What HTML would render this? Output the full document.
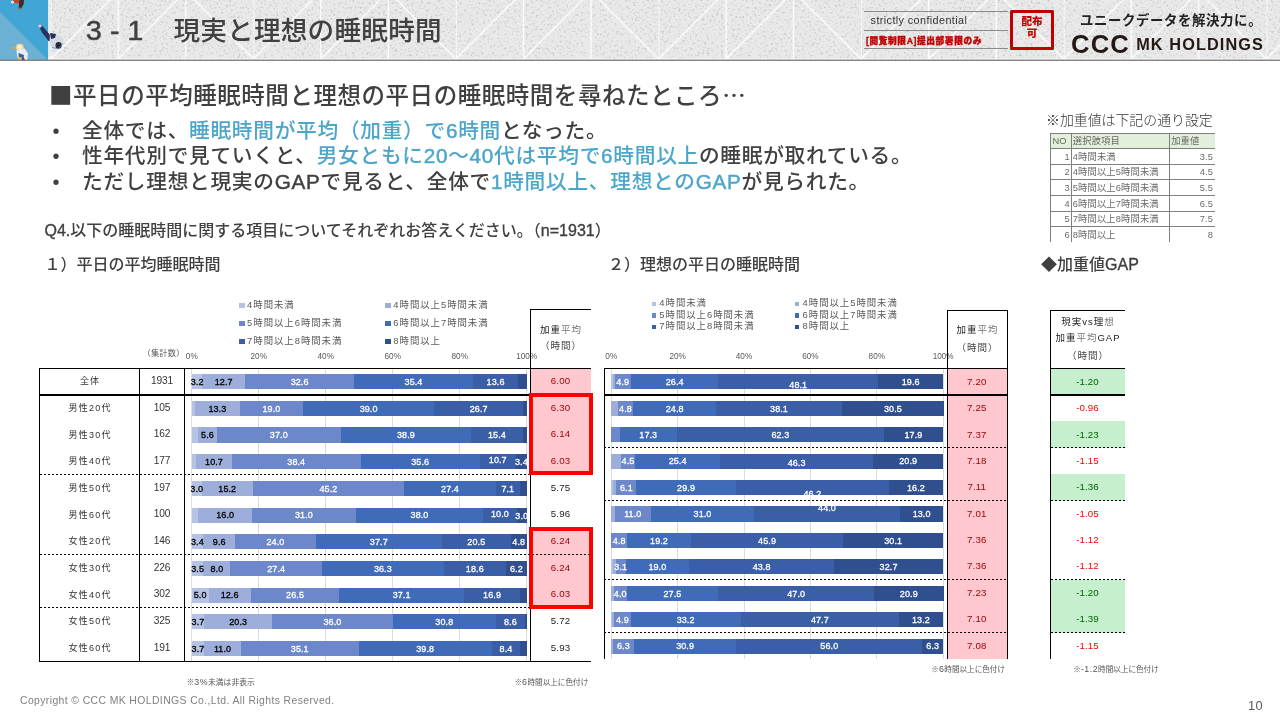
<!DOCTYPE html>
<html lang="ja"><head><meta charset="utf-8"><title>3-1 現実と理想の睡眠時間</title>
<style>
*{margin:0;padding:0;box-sizing:border-box}
html,body{width:1280px;height:720px;overflow:hidden;background:#fff}
body{position:relative;font-family:"Liberation Sans","Noto Sans CJK JP",sans-serif;color:#404040}
.j{font-family:"Noto Sans CJK JP",sans-serif}
.a{position:absolute;white-space:nowrap}
.m{-webkit-text-stroke:.45px currentColor}
.hd{position:absolute;left:0;top:0;width:1280px;height:61px;overflow:hidden}
.t1{font-size:26.6px;font-weight:500;color:#404040}
.h2{font-size:23.5px;font-weight:500;color:#404040}
.bl{font-size:20.7px;letter-spacing:.72px;font-weight:500;color:#404040;line-height:25.6px}
.bl b{font-weight:500;color:#4BA6C9}
.q{font-size:16px;font-weight:500;color:#404040}
.bar{position:absolute;height:15.2px}
.lbs{position:absolute;height:26px;overflow:hidden}
.bar i{position:absolute;top:0;height:100%;display:block}
.lb{position:absolute;font-size:9px;line-height:10px;width:30px;margin-left:-15px;text-align:center;color:#fff;font-weight:400;white-space:nowrap;-webkit-text-stroke:.3px #fff;letter-spacing:.1px}
.lb.k{color:#000;-webkit-text-stroke:.3px #000}
.ln{position:absolute;background:#000}
.gl{position:absolute;background:#dcdcdc;width:1px}
.dot{position:absolute;height:1.1px;background:repeating-linear-gradient(90deg,#000 0,#000 2.2px,transparent 2.2px,transparent 4px)}
.cell{position:absolute;text-align:center;font-size:9px;line-height:10px;color:#333;white-space:nowrap;letter-spacing:1.2px;text-indent:1.2px}
.lg{position:absolute;font-size:9.4px;line-height:12px;letter-spacing:.98px;color:#595959;white-space:nowrap}
.mk{position:absolute;width:5.5px;height:4.8px;margin-left:-.5px;margin-top:-.2px}
.ax{position:absolute;font-size:8.2px;line-height:10px;color:#595959;width:30px;margin-left:-15px;text-align:center;white-space:nowrap}
.nt u{text-decoration:none;font-size:8.8px;letter-spacing:.5px}
.nt{position:absolute;font-size:7.2px;line-height:10px;color:#555;white-space:nowrap}
.v{position:absolute;font-size:9.7px;letter-spacing:.1px;line-height:12px;width:60px;margin-left:-30px;text-align:center;white-space:nowrap}
.wt{position:absolute;font-size:9.3px;letter-spacing:.12px;line-height:10px;color:#6a6a6a;white-space:nowrap}
</style></head><body>

<div class="hd">
<svg class="a" style="left:0;top:0" width="1280" height="61" viewBox="0 0 1280 61">
<defs>
<filter id="nz" x="0" y="0" width="100%" height="100%"><feTurbulence type="fractalNoise" baseFrequency="0.42" numOctaves="3" seed="7"/><feColorMatrix type="matrix" values="0 0 0 0 0.45  0 0 0 0 0.45  0 0 0 0 0.45  4.2 0 0 0 -2.3"/></filter>
<pattern id="tri" x="50.7" y="-8.5" width="202.6" height="67.53" patternUnits="userSpaceOnUse">
<path d="M0 0V67.53M67.53 0V67.53M135.07 0V67.53M0 67.53L67.53 0M67.53 67.53L135.07 0M135.07 0L202.6 67.53" stroke="#fff" stroke-width="1.25" fill="none"/>
</pattern>
</defs>
<rect width="1280" height="61" fill="#e9e9e9"/>
<rect width="1280" height="61" filter="url(#nz)" opacity=".55"/>
<rect x="48" width="1232" height="60" fill="url(#tri)"/>
<rect x="0" y="0" width="48.3" height="60" fill="#41a6d6"/>
<path d="M0 12L47.6 59.6H0Z" fill="#6db1d4"/>
<rect x="48.3" y="0" width="1.2" height="59" fill="#f4f4f4"/>
<g>
<ellipse cx="17.5" cy="1.2" rx="4.5" ry="2.2" fill="#c2402f"/>
<ellipse cx="12.5" cy="2.2" rx="1.6" ry="1.4" fill="#f3dcc0"/>
<path d="M19.5 0L24 0L23.5 4.5L20.5 9.5L18.5 8.5Z" fill="#3d2b27"/>
<ellipse cx="19.6" cy="8.6" rx="1.3" ry="1" fill="#b86a3a"/>
<path d="M38.6 25.4L41.6 25L50.5 35.5L52 41.5L48.5 41L42 32.5Z" fill="#2b325c"/>
<ellipse cx="40" cy="26" rx="1.8" ry="1.5" fill="#d9d3e0"/>
<path d="M50 33L57.5 34.5L63.5 39L62.5 43L58 48.5L51.5 47L49.5 42Z" fill="#d5dbe4"/>
<path d="M50 33L56 34L55 38L51 39Z" fill="#27305a"/>
<ellipse cx="58.6" cy="45.4" rx="3.1" ry="3.3" fill="#2a2b38"/>
<path d="M52 47.5L58.5 48.8L63 43.5" stroke="#3b86c4" stroke-width=".8" fill="none"/>
<ellipse cx="19.8" cy="47.2" rx="3.9" ry="3.4" fill="#f2d998"/>
<ellipse cx="19.8" cy="46.8" rx="2.2" ry="1.9" fill="#fbf3dc"/>
<path d="M16.5 50L24.5 48.5L27.8 53L27.5 60L18.5 60L17 55Z" fill="#e9edf3"/>
<path d="M18.5 53L24 55L23.5 60L19 60Z" fill="#3c5c9a"/>
<ellipse cx="13.8" cy="47.8" rx="2" ry="1.5" fill="#e3a04f" transform="rotate(-35 13.8 47.8)"/>
<ellipse cx="20" cy="58.6" rx="2.2" ry="1.6" fill="#e8b36a"/>
<ellipse cx="23.4" cy="59.4" rx="1.3" ry="1.2" fill="#222"/>
</g>
<rect x="48" y="58.4" width="1232" height="1.2" fill="#f7f7f7"/><rect x="0" y="59.6" width="1280" height="1.4" fill="#858585"/>
</svg>
<div class="a t1" style="left:86px;top:10.4px;line-height:40px;font-size:28.4px;letter-spacing:.1px;-webkit-text-stroke:.5px #404040">3 - 1</div><div class="a t1" style="left:173.4px;top:11px;line-height:40px;letter-spacing:.25px">現実と理想の睡眠時間</div>
<div class="ln" style="left:864px;top:10.7px;width:144px;height:1px;background:#8c8c8c"></div>
<div class="ln" style="left:864px;top:29.8px;width:144px;height:1px;background:#8c8c8c"></div>
<div class="ln" style="left:864px;top:47.6px;width:144px;height:1px;background:#8c8c8c"></div>
<div class="a" style="left:870.6px;top:13px;font-size:10.8px;line-height:14px;color:#333;letter-spacing:.4px">strictly confidential</div>
<div class="a" style="left:866px;top:35px;font-size:8.7px;line-height:12px;color:#c00000;font-weight:900;letter-spacing:.6px;-webkit-text-stroke:.3px #c00000">[閲覧制限A]提出部署限のみ</div>
<div class="a" style="left:1010px;top:10px;width:44px;height:40px;border:3.1px solid #c00000;border-radius:1.5px;text-align:center;font-size:10.6px;line-height:11.4px;color:#c00000;font-weight:900;padding-top:3.2px">配布<br>可</div>
<div class="a" style="left:1080px;top:12px;font-size:13.4px;line-height:18px;color:#222;font-weight:700;letter-spacing:.62px">ユニークデータを解決力に。</div>
<div class="a" style="left:1071px;top:29.7px;font-size:25.6px;line-height:28px;color:#231815;font-weight:700;letter-spacing:1.2px">CCC</div>
<div class="a" style="left:1136.2px;top:33px;font-size:16.3px;line-height:22px;color:#231815;font-weight:700;letter-spacing:1.1px">MK HOLDINGS</div>
</div>
<div class="a h2" style="left:49px;top:75.8px;letter-spacing:.54px;line-height:36px"><span class="j">■</span>平日の平均睡眠時間と理想の平日の睡眠時間を尋ねたところ<span class="j">…</span></div>
<div class="a bl" style="left:52.4px;top:118.8px;font-size:20px;letter-spacing:0">•</div>
<div class="a bl" style="left:52.4px;top:144.3px;font-size:20px;letter-spacing:0">•</div>
<div class="a bl" style="left:52.4px;top:169.9px;font-size:20px;letter-spacing:0">•</div>
<div class="a bl" style="left:82px;top:117.5px">全体では、<b>睡眠時間が平均（加重）で<span class="m">6</span>時間</b>となった。</div>
<div class="a bl" style="left:82px;top:143px">性年代別で見ていくと、<b>男女ともに<span class="m">20</span>〜<span class="m">40</span>代は平均で<span class="m">6</span>時間以上</b>の睡眠が取れている。</div>
<div class="a bl" style="left:82px;top:168.6px">ただし理想と現実の<span class="m">GAP</span>で見ると、全体で<b><span class="m">1</span>時間以上、理想との<span class="m">GAP</span></b>が見られた。</div>
<div class="a q" style="left:44.5px;top:219px;line-height:24px"><span class="m" style="-webkit-text-stroke-width:.35px">Q4.</span>以下の睡眠時間に関する項目についてそれぞれお答えください。（<span class="m" style="-webkit-text-stroke-width:.35px">n=1931</span>）</div>
<div class="a q" style="left:44.5px;top:252.8px;line-height:24px">１）平日の平均睡眠時間</div>
<div class="a q" style="left:608px;top:252.8px;line-height:24px">２）理想の平日の睡眠時間</div>
<div class="a q" style="left:1041px;top:250.8px;line-height:24px"><span class="j">◆</span>加重値<span class="m" style="-webkit-text-stroke-width:.35px">GAP</span></div>
<div class="a" style="left:1046px;top:109px;font-size:13.9px;line-height:20px;color:#333;font-weight:300"><span class="j">※</span>加重値は下記の通り設定</div>
<div class="a" style="left:1050.4px;top:133.3px;width:164.5999999999999px;height:15.299999999999983px;background:#e2efda"></div>
<div class="ln" style="left:1050.4px;top:132.8px;width:164.5999999999999px;height:1px;background:#7f7f7f"></div>
<div class="ln" style="left:1050.4px;top:148.1px;width:164.5999999999999px;height:1px;background:#7f7f7f"></div>
<div class="ln" style="left:1050.4px;top:163.7px;width:164.5999999999999px;height:1px;background:#7f7f7f"></div>
<div class="ln" style="left:1050.4px;top:179.3px;width:164.5999999999999px;height:1px;background:#7f7f7f"></div>
<div class="ln" style="left:1050.4px;top:194.9px;width:164.5999999999999px;height:1px;background:#7f7f7f"></div>
<div class="ln" style="left:1050.4px;top:210.5px;width:164.5999999999999px;height:1px;background:#7f7f7f"></div>
<div class="ln" style="left:1050.4px;top:226.2px;width:164.5999999999999px;height:1px;background:#7f7f7f"></div>
<div class="ln" style="left:1049.9px;top:133.3px;width:1px;height:108.69999999999999px;background:#7f7f7f"></div>
<div class="ln" style="left:1070.8px;top:133.3px;width:1px;height:108.69999999999999px;background:#7f7f7f"></div>
<div class="ln" style="left:1168.7px;top:133.3px;width:1px;height:108.69999999999999px;background:#7f7f7f"></div>
<div class="wt" style="left:1052.4px;top:136.25px;color:#666">NO</div>
<div class="wt" style="left:1171.2px;top:136.25px">加重値</div>
<div class="wt" style="left:1072.8px;top:136.25px">選択肢項目</div>
<div class="wt" style="left:1050.4px;width:19.399999999999864px;text-align:right;top:151.7px">1</div>
<div class="wt" style="left:1169.2px;width:43.799999999999955px;text-align:right;top:151.7px">3.5</div>
<div class="wt" style="left:1072.8px;top:151.7px">4時間未満</div>
<div class="wt" style="left:1050.4px;width:19.399999999999864px;text-align:right;top:167.3px">2</div>
<div class="wt" style="left:1169.2px;width:43.799999999999955px;text-align:right;top:167.3px">4.5</div>
<div class="wt" style="left:1072.8px;top:167.3px">4時間以上5時間未満</div>
<div class="wt" style="left:1050.4px;width:19.399999999999864px;text-align:right;top:182.90000000000003px">3</div>
<div class="wt" style="left:1169.2px;width:43.799999999999955px;text-align:right;top:182.90000000000003px">5.5</div>
<div class="wt" style="left:1072.8px;top:182.90000000000003px">5時間以上6時間未満</div>
<div class="wt" style="left:1050.4px;width:19.399999999999864px;text-align:right;top:198.5px">4</div>
<div class="wt" style="left:1169.2px;width:43.799999999999955px;text-align:right;top:198.5px">6.5</div>
<div class="wt" style="left:1072.8px;top:198.5px">6時間以上7時間未満</div>
<div class="wt" style="left:1050.4px;width:19.399999999999864px;text-align:right;top:214.15px">5</div>
<div class="wt" style="left:1169.2px;width:43.799999999999955px;text-align:right;top:214.15px">7.5</div>
<div class="wt" style="left:1072.8px;top:214.15px">7時間以上8時間未満</div>
<div class="wt" style="left:1050.4px;width:19.399999999999864px;text-align:right;top:229.65px">6</div>
<div class="wt" style="left:1169.2px;width:43.799999999999955px;text-align:right;top:229.65px">8</div>
<div class="wt" style="left:1072.8px;top:229.65px">8時間以上</div>
<div class="gl" style="left:191.25px;top:368.7px;height:292.59999999999997px"></div>
<div class="ax" style="left:191.75px;top:351.5px">0%</div>
<div class="gl" style="left:258.25px;top:368.7px;height:292.59999999999997px"></div>
<div class="ax" style="left:258.75px;top:351.5px">20%</div>
<div class="gl" style="left:325.25px;top:368.7px;height:292.59999999999997px"></div>
<div class="ax" style="left:325.75px;top:351.5px">40%</div>
<div class="gl" style="left:392.25px;top:368.7px;height:292.59999999999997px"></div>
<div class="ax" style="left:392.75px;top:351.5px">60%</div>
<div class="gl" style="left:459.25px;top:368.7px;height:292.59999999999997px"></div>
<div class="ax" style="left:459.75px;top:351.5px">80%</div>
<div class="gl" style="left:526.25px;top:368.7px;height:292.59999999999997px"></div>
<div class="ax" style="left:526.75px;top:351.5px">100%</div>
<div class="bar" style="left:191.75px;top:374.10px;width:335.40px">
<i style="left:0.00px;width:11.02px;background:#b6c3e5"></i>
<i style="left:10.72px;width:42.84px;background:#9eaedb"></i>
<i style="left:53.26px;width:109.51px;background:#6c88ca"></i>
<i style="left:162.47px;width:118.89px;background:#3f6bb9"></i>
<i style="left:281.07px;width:45.86px;background:#3a5fa6"></i>
<i style="left:326.62px;width:8.68px;background:#2f4f8e"></i>
</div>
<div class="lbs" style="left:191.15px;top:368.70px;width:336.50px">
<span class="lb k" style="left:5.96px;top:8.30px">3.2</span>
<span class="lb k" style="left:32.59px;top:8.30px">12.7</span>
<span class="lb" style="left:108.47px;top:8.30px">32.6</span>
<span class="lb" style="left:222.37px;top:8.30px">35.4</span>
<span class="lb" style="left:304.45px;top:8.30px">13.6</span>
</div>
<div class="bar" style="left:191.75px;top:400.78px;width:335.40px">
<i style="left:0.00px;width:3.65px;background:#b6c3e5"></i>
<i style="left:3.35px;width:44.85px;background:#9eaedb"></i>
<i style="left:47.91px;width:63.95px;background:#6c88ca"></i>
<i style="left:111.55px;width:130.95px;background:#3f6bb9"></i>
<i style="left:242.20px;width:89.75px;background:#3a5fa6"></i>
<i style="left:331.65px;width:3.65px;background:#2f4f8e"></i>
</div>
<div class="lbs" style="left:191.15px;top:395.38px;width:336.50px">
<span class="lb k" style="left:26.23px;top:8.30px">13.3</span>
<span class="lb" style="left:80.33px;top:8.30px">19.0</span>
<span class="lb" style="left:177.48px;top:8.30px">39.0</span>
<span class="lb" style="left:287.53px;top:8.30px">26.7</span>
</div>
<div class="bar" style="left:191.75px;top:427.46px;width:335.40px">
<i style="left:0.00px;width:6.67px;background:#b6c3e5"></i>
<i style="left:6.37px;width:19.06px;background:#9eaedb"></i>
<i style="left:25.12px;width:124.25px;background:#6c88ca"></i>
<i style="left:149.07px;width:130.62px;background:#3f6bb9"></i>
<i style="left:279.39px;width:51.89px;background:#3a5fa6"></i>
<i style="left:330.98px;width:4.32px;background:#2f4f8e"></i>
</div>
<div class="lbs" style="left:191.15px;top:422.06px;width:336.50px">
<span class="lb k" style="left:16.34px;top:8.30px">5.6</span>
<span class="lb" style="left:87.70px;top:8.30px">37.0</span>
<span class="lb" style="left:214.83px;top:8.30px">38.9</span>
<span class="lb" style="left:305.79px;top:8.30px">15.4</span>
</div>
<div class="bar" style="left:191.75px;top:454.14px;width:335.40px">
<i style="left:0.00px;width:4.66px;background:#b6c3e5"></i>
<i style="left:4.36px;width:36.14px;background:#9eaedb"></i>
<i style="left:40.20px;width:128.94px;background:#6c88ca"></i>
<i style="left:168.84px;width:119.56px;background:#3f6bb9"></i>
<i style="left:288.10px;width:36.14px;background:#3a5fa6"></i>
<i style="left:323.95px;width:11.69px;background:#2f4f8e"></i>
</div>
<div class="lbs" style="left:191.15px;top:448.74px;width:336.50px">
<span class="lb k" style="left:22.88px;top:8.30px">10.7</span>
<span class="lb" style="left:105.12px;top:8.30px">38.4</span>
<span class="lb" style="left:229.07px;top:8.30px">35.6</span>
<span class="lb" style="left:306.62px;top:6.70px">10.7</span>
<span class="lb" style="left:330.24px;top:8.70px">3.4</span>
</div>
<div class="bar" style="left:191.75px;top:480.82px;width:335.40px">
<i style="left:0.00px;width:10.35px;background:#b6c3e5"></i>
<i style="left:10.05px;width:51.22px;background:#9eaedb"></i>
<i style="left:60.97px;width:151.72px;background:#6c88ca"></i>
<i style="left:212.39px;width:92.09px;background:#3f6bb9"></i>
<i style="left:304.18px;width:24.08px;background:#3a5fa6"></i>
<i style="left:327.97px;width:7.00px;background:#2f4f8e"></i>
</div>
<div class="lbs" style="left:191.15px;top:475.42px;width:336.50px">
<span class="lb k" style="left:5.62px;top:8.30px">3.0</span>
<span class="lb k" style="left:36.11px;top:8.30px">15.2</span>
<span class="lb" style="left:137.28px;top:8.30px">45.2</span>
<span class="lb" style="left:258.89px;top:8.30px">27.4</span>
<span class="lb" style="left:316.67px;top:8.90px">7.1</span>
</div>
<div class="bar" style="left:191.75px;top:507.50px;width:335.40px">
<i style="left:0.00px;width:7.00px;background:#b6c3e5"></i>
<i style="left:6.70px;width:53.90px;background:#9eaedb"></i>
<i style="left:60.30px;width:104.15px;background:#6c88ca"></i>
<i style="left:164.15px;width:127.60px;background:#3f6bb9"></i>
<i style="left:291.45px;width:33.80px;background:#3a5fa6"></i>
<i style="left:324.95px;width:10.35px;background:#2f4f8e"></i>
</div>
<div class="lbs" style="left:191.15px;top:502.10px;width:336.50px">
<span class="lb k" style="left:34.10px;top:8.30px">16.0</span>
<span class="lb" style="left:112.83px;top:8.30px">31.0</span>
<span class="lb" style="left:228.40px;top:8.30px">38.0</span>
<span class="lb" style="left:308.80px;top:6.90px">10.0</span>
<span class="lb" style="left:330.58px;top:8.70px">3.0</span>
</div>
<div class="bar" style="left:191.75px;top:534.18px;width:335.40px">
<i style="left:0.00px;width:11.69px;background:#b6c3e5"></i>
<i style="left:11.39px;width:32.46px;background:#9eaedb"></i>
<i style="left:43.55px;width:80.70px;background:#6c88ca"></i>
<i style="left:123.95px;width:126.59px;background:#3f6bb9"></i>
<i style="left:250.25px;width:68.97px;background:#3a5fa6"></i>
<i style="left:318.92px;width:16.38px;background:#2f4f8e"></i>
</div>
<div class="lbs" style="left:191.15px;top:528.78px;width:336.50px">
<span class="lb k" style="left:6.29px;top:8.30px">3.4</span>
<span class="lb k" style="left:28.07px;top:8.30px">9.6</span>
<span class="lb" style="left:84.35px;top:8.30px">24.0</span>
<span class="lb" style="left:187.70px;top:8.30px">37.7</span>
<span class="lb" style="left:285.18px;top:8.30px">20.5</span>
<span class="lb" style="left:327.56px;top:8.30px">4.8</span>
</div>
<div class="bar" style="left:191.75px;top:560.86px;width:335.40px">
<i style="left:0.00px;width:12.03px;background:#b6c3e5"></i>
<i style="left:11.73px;width:27.10px;background:#9eaedb"></i>
<i style="left:38.52px;width:92.09px;background:#6c88ca"></i>
<i style="left:130.31px;width:121.90px;background:#3f6bb9"></i>
<i style="left:251.92px;width:62.61px;background:#3a5fa6"></i>
<i style="left:314.23px;width:21.07px;background:#2f4f8e"></i>
</div>
<div class="lbs" style="left:191.15px;top:555.46px;width:336.50px">
<span class="lb k" style="left:6.46px;top:8.30px">3.5</span>
<span class="lb k" style="left:25.73px;top:8.30px">8.0</span>
<span class="lb" style="left:85.02px;top:8.30px">27.4</span>
<span class="lb" style="left:191.72px;top:8.30px">36.3</span>
<span class="lb" style="left:283.67px;top:8.30px">18.6</span>
<span class="lb" style="left:325.21px;top:8.30px">6.2</span>
</div>
<div class="bar" style="left:191.75px;top:587.54px;width:335.40px">
<i style="left:0.00px;width:17.05px;background:#b6c3e5"></i>
<i style="left:16.75px;width:42.51px;background:#9eaedb"></i>
<i style="left:58.96px;width:89.08px;background:#6c88ca"></i>
<i style="left:147.74px;width:124.58px;background:#3f6bb9"></i>
<i style="left:272.02px;width:56.91px;background:#3a5fa6"></i>
<i style="left:328.63px;width:7.00px;background:#2f4f8e"></i>
</div>
<div class="lbs" style="left:191.15px;top:582.14px;width:336.50px">
<span class="lb k" style="left:8.97px;top:8.30px">5.0</span>
<span class="lb k" style="left:38.46px;top:8.30px">12.6</span>
<span class="lb" style="left:103.95px;top:8.30px">26.5</span>
<span class="lb" style="left:210.48px;top:8.30px">37.1</span>
<span class="lb" style="left:300.93px;top:8.30px">16.9</span>
</div>
<div class="bar" style="left:191.75px;top:614.22px;width:335.40px">
<i style="left:0.00px;width:12.70px;background:#b6c3e5"></i>
<i style="left:12.40px;width:68.31px;background:#9eaedb"></i>
<i style="left:80.40px;width:120.90px;background:#6c88ca"></i>
<i style="left:201.00px;width:103.48px;background:#3f6bb9"></i>
<i style="left:304.18px;width:29.11px;background:#3a5fa6"></i>
<i style="left:332.99px;width:2.31px;background:#2f4f8e"></i>
</div>
<div class="lbs" style="left:191.15px;top:608.82px;width:336.50px">
<span class="lb k" style="left:6.80px;top:8.30px">3.7</span>
<span class="lb k" style="left:47.00px;top:8.30px">20.3</span>
<span class="lb" style="left:141.30px;top:8.30px">36.0</span>
<span class="lb" style="left:253.19px;top:8.30px">30.8</span>
<span class="lb" style="left:319.19px;top:8.30px">8.6</span>
</div>
<div class="bar" style="left:191.75px;top:640.90px;width:335.40px">
<i style="left:0.00px;width:12.70px;background:#b6c3e5"></i>
<i style="left:12.40px;width:37.15px;background:#9eaedb"></i>
<i style="left:49.24px;width:117.89px;background:#6c88ca"></i>
<i style="left:166.83px;width:133.63px;background:#3f6bb9"></i>
<i style="left:300.16px;width:28.44px;background:#3a5fa6"></i>
<i style="left:328.30px;width:7.33px;background:#2f4f8e"></i>
</div>
<div class="lbs" style="left:191.15px;top:635.50px;width:336.50px">
<span class="lb k" style="left:6.80px;top:8.30px">3.7</span>
<span class="lb k" style="left:31.42px;top:8.30px">11.0</span>
<span class="lb" style="left:108.64px;top:8.30px">35.1</span>
<span class="lb" style="left:234.09px;top:8.30px">39.8</span>
<span class="lb" style="left:314.83px;top:8.30px">8.4</span>
</div>
<div class="ln" style="left:39px;top:368.2px;width:552px;height:1px"></div>
<div class="ln" style="left:39px;top:394px;width:552px;height:2px"></div>
<div class="ln" style="left:39px;top:660.8px;width:552px;height:1px"></div>
<div class="ln" style="left:39.0px;top:368.7px;width:1px;height:292.59999999999997px"></div>
<div class="ln" style="left:139.0px;top:368.7px;width:1px;height:292.59999999999997px"></div>
<div class="ln" style="left:184.0px;top:368.7px;width:1px;height:292.59999999999997px"></div>
<div class="ln" style="left:529.75px;top:309.5px;width:1px;height:351.79999999999995px"></div>
<div class="ln" style="left:529.75px;top:309px;width:61px;height:1px"></div>
<div class="dot" style="left:40px;top:474.0px;width:490px"></div>
<div class="dot" style="left:40px;top:554.0px;width:490px"></div>
<div class="dot" style="left:40px;top:607.0px;width:490px"></div>
<div class="a" style="left:530.75px;top:368.70px;width:60px;height:26.80px;background:#ffc7ce"></div>
<div class="a" style="left:530.75px;top:395.30px;width:60px;height:26.80px;background:#ffc7ce"></div>
<div class="a" style="left:530.75px;top:421.90px;width:60px;height:26.80px;background:#ffc7ce"></div>
<div class="a" style="left:530.75px;top:448.50px;width:60px;height:26.80px;background:#ffc7ce"></div>
<div class="a" style="left:530.75px;top:528.30px;width:60px;height:26.80px;background:#ffc7ce"></div>
<div class="a" style="left:530.75px;top:554.90px;width:60px;height:26.80px;background:#ffc7ce"></div>
<div class="a" style="left:530.75px;top:581.50px;width:60px;height:26.80px;background:#ffc7ce"></div>
<div class="v" style="left:560.5px;top:375.10px;color:#9c0006">6.00</div>
<div class="cell" style="left:40px;width:99px;top:376.30px">全体</div>
<div class="cell" style="left:140px;width:44px;top:376.10px;font-size:10.2px;letter-spacing:-.15px;text-indent:0">1931</div>
<div class="v" style="left:560.5px;top:401.75px;color:#9c0006">6.30</div>
<div class="cell" style="left:40px;width:99px;top:402.95px">男性20代</div>
<div class="cell" style="left:140px;width:44px;top:402.75px;font-size:10.2px;letter-spacing:-.15px;text-indent:0">105</div>
<div class="v" style="left:560.5px;top:428.40px;color:#9c0006">6.14</div>
<div class="cell" style="left:40px;width:99px;top:429.60px">男性30代</div>
<div class="cell" style="left:140px;width:44px;top:429.40px;font-size:10.2px;letter-spacing:-.15px;text-indent:0">162</div>
<div class="v" style="left:560.5px;top:455.05px;color:#9c0006">6.03</div>
<div class="cell" style="left:40px;width:99px;top:456.25px">男性40代</div>
<div class="cell" style="left:140px;width:44px;top:456.05px;font-size:10.2px;letter-spacing:-.15px;text-indent:0">177</div>
<div class="v" style="left:560.5px;top:481.70px;color:#222">5.75</div>
<div class="cell" style="left:40px;width:99px;top:482.90px">男性50代</div>
<div class="cell" style="left:140px;width:44px;top:482.70px;font-size:10.2px;letter-spacing:-.15px;text-indent:0">197</div>
<div class="v" style="left:560.5px;top:508.35px;color:#222">5.96</div>
<div class="cell" style="left:40px;width:99px;top:509.55px">男性60代</div>
<div class="cell" style="left:140px;width:44px;top:509.35px;font-size:10.2px;letter-spacing:-.15px;text-indent:0">100</div>
<div class="v" style="left:560.5px;top:535.00px;color:#9c0006">6.24</div>
<div class="cell" style="left:40px;width:99px;top:536.20px">女性20代</div>
<div class="cell" style="left:140px;width:44px;top:536.00px;font-size:10.2px;letter-spacing:-.15px;text-indent:0">146</div>
<div class="v" style="left:560.5px;top:561.65px;color:#9c0006">6.24</div>
<div class="cell" style="left:40px;width:99px;top:562.85px">女性30代</div>
<div class="cell" style="left:140px;width:44px;top:562.65px;font-size:10.2px;letter-spacing:-.15px;text-indent:0">226</div>
<div class="v" style="left:560.5px;top:588.30px;color:#9c0006">6.03</div>
<div class="cell" style="left:40px;width:99px;top:589.50px">女性40代</div>
<div class="cell" style="left:140px;width:44px;top:589.30px;font-size:10.2px;letter-spacing:-.15px;text-indent:0">302</div>
<div class="v" style="left:560.5px;top:614.95px;color:#222">5.72</div>
<div class="cell" style="left:40px;width:99px;top:616.15px">女性50代</div>
<div class="cell" style="left:140px;width:44px;top:615.95px;font-size:10.2px;letter-spacing:-.15px;text-indent:0">325</div>
<div class="v" style="left:560.5px;top:641.60px;color:#222">5.93</div>
<div class="cell" style="left:40px;width:99px;top:642.80px">女性60代</div>
<div class="cell" style="left:140px;width:44px;top:642.60px;font-size:10.2px;letter-spacing:-.15px;text-indent:0">191</div>
<div class="dot" style="left:532px;top:554px;width:59px"></div>
<div class="a" style="left:529px;top:393px;width:64px;height:81.8px;border:4.1px solid #f00"></div>
<div class="a" style="left:529px;top:527.2px;width:64px;height:81.8px;border:4.1px solid #f00"></div>
<div class="cell" style="left:531px;width:60px;top:325px;font-size:9.5px;letter-spacing:1px;text-indent:0;color:#222">加重<span style="color:#777">平均</span></div>
<div class="cell" style="left:531px;width:60px;top:341.3px;font-size:9.5px;letter-spacing:1px;text-indent:0;color:#444">（時間）</div>
<div class="nt" style="left:142.6px;top:349.3px;font-size:8.2px;letter-spacing:.2px">（集計数）</div>
<div class="mk" style="left:239.5px;top:303.09999999999997px;background:#b6c3e5"></div>
<div class="lg" style="left:247.1px;top:298.8px">4時間未満</div>
<div class="mk" style="left:385.75px;top:303.09999999999997px;background:#9eaedb"></div>
<div class="lg" style="left:393.35px;top:298.8px">4時間以上5時間未満</div>
<div class="mk" style="left:239.5px;top:321.09999999999997px;background:#6c88ca"></div>
<div class="lg" style="left:247.1px;top:316.8px">5時間以上6時間未満</div>
<div class="mk" style="left:385.75px;top:321.09999999999997px;background:#3f6bb9"></div>
<div class="lg" style="left:393.35px;top:316.8px">6時間以上7時間未満</div>
<div class="mk" style="left:239.5px;top:339.09999999999997px;background:#3a5fa6"></div>
<div class="lg" style="left:247.1px;top:334.8px">7時間以上8時間未満</div>
<div class="mk" style="left:385.75px;top:339.09999999999997px;background:#2f4f8e"></div>
<div class="lg" style="left:393.35px;top:334.8px">8時間以上</div>
<div class="nt" style="left:186.5px;top:677px;font-size:7.8px"><span class="j">※</span><u>3%</u>未満は非表示</div>
<div class="nt" style="left:514.5px;top:677px;font-size:7.6px"><span class="j">※</span><u>6</u>時間以上に色付け</div>
<div class="gl" style="left:610.75px;top:368.7px;height:290.09999999999997px"></div>
<div class="ax" style="left:611.25px;top:351.5px">0%</div>
<div class="gl" style="left:677.14px;top:368.7px;height:290.09999999999997px"></div>
<div class="ax" style="left:677.64px;top:351.5px">20%</div>
<div class="gl" style="left:743.53px;top:368.7px;height:290.09999999999997px"></div>
<div class="ax" style="left:744.03px;top:351.5px">40%</div>
<div class="gl" style="left:809.92px;top:368.7px;height:290.09999999999997px"></div>
<div class="ax" style="left:810.42px;top:351.5px">60%</div>
<div class="gl" style="left:876.31px;top:368.7px;height:290.09999999999997px"></div>
<div class="ax" style="left:876.81px;top:351.5px">80%</div>
<div class="gl" style="left:942.70px;top:368.7px;height:290.09999999999997px"></div>
<div class="ax" style="left:943.20px;top:351.5px">100%</div>
<div class="a" style="left:948px;top:368.7px;width:59px;height:290.09999999999997px;background:#ffc7ce"></div>
<div class="a" style="left:1051px;top:368.7px;width:74px;height:25.80000000000001px;background:#c6efce"></div>
<div class="a" style="left:1051px;top:421px;width:74px;height:26.5px;background:#c6efce"></div>
<div class="a" style="left:1051px;top:474px;width:74px;height:26.5px;background:#c6efce"></div>
<div class="a" style="left:1051px;top:579.5px;width:74px;height:26.5px;background:#c6efce"></div>
<div class="a" style="left:1051px;top:606px;width:74px;height:26.5px;background:#c6efce"></div>
<div class="bar" style="left:611.25px;top:374.30px;width:332.35px">
<i style="left:0.00px;width:1.63px;background:#b6c3e5"></i>
<i style="left:1.33px;width:2.29px;background:#9eaedb"></i>
<i style="left:3.32px;width:16.57px;background:#6c88ca"></i>
<i style="left:19.59px;width:87.93px;background:#3f6bb9"></i>
<i style="left:107.22px;width:159.97px;background:#3a5fa6"></i>
<i style="left:266.89px;width:65.36px;background:#2f4f8e"></i>
</div>
<div class="lbs" style="left:610.65px;top:368.90px;width:333.45px">
<span class="lb" style="left:12.05px;top:8.30px">4.9</span>
<span class="lb" style="left:64.00px;top:8.30px">26.4</span>
<span class="lb" style="left:187.65px;top:10.90px">48.1</span>
<span class="lb" style="left:300.02px;top:8.30px">19.6</span>
</div>
<div class="bar" style="left:611.25px;top:400.72px;width:332.35px">
<i style="left:0.00px;width:6.61px;background:#9eaedb"></i>
<i style="left:6.31px;width:16.23px;background:#6c88ca"></i>
<i style="left:22.24px;width:82.62px;background:#3f6bb9"></i>
<i style="left:104.56px;width:126.77px;background:#3a5fa6"></i>
<i style="left:231.04px;width:101.54px;background:#2f4f8e"></i>
</div>
<div class="lbs" style="left:610.65px;top:395.32px;width:333.45px">
<span class="lb" style="left:14.87px;top:8.30px">4.8</span>
<span class="lb" style="left:64.00px;top:8.30px">24.8</span>
<span class="lb" style="left:168.40px;top:8.30px">38.1</span>
<span class="lb" style="left:282.26px;top:8.30px">30.5</span>
</div>
<div class="bar" style="left:611.25px;top:427.14px;width:332.35px">
<i style="left:0.00px;width:8.60px;background:#6c88ca"></i>
<i style="left:8.30px;width:57.73px;background:#3f6bb9"></i>
<i style="left:65.73px;width:207.10px;background:#3a5fa6"></i>
<i style="left:272.53px;width:59.72px;background:#2f4f8e"></i>
</div>
<div class="lbs" style="left:610.65px;top:421.74px;width:333.45px">
<span class="lb" style="left:37.61px;top:8.30px">17.3</span>
<span class="lb" style="left:169.73px;top:8.30px">62.3</span>
<span class="lb" style="left:302.84px;top:8.30px">17.9</span>
</div>
<div class="bar" style="left:611.25px;top:453.56px;width:332.35px">
<i style="left:0.00px;width:9.59px;background:#9eaedb"></i>
<i style="left:9.29px;width:15.24px;background:#6c88ca"></i>
<i style="left:24.23px;width:84.62px;background:#3f6bb9"></i>
<i style="left:108.55px;width:153.99px;background:#3a5fa6"></i>
<i style="left:262.24px;width:69.68px;background:#2f4f8e"></i>
</div>
<div class="lbs" style="left:610.65px;top:448.16px;width:333.45px">
<span class="lb" style="left:17.36px;top:8.30px">4.5</span>
<span class="lb" style="left:66.99px;top:8.30px">25.4</span>
<span class="lb" style="left:185.99px;top:9.90px">46.3</span>
<span class="lb" style="left:297.53px;top:8.30px">20.9</span>
</div>
<div class="bar" style="left:611.25px;top:479.98px;width:332.35px">
<i style="left:0.00px;width:1.96px;background:#b6c3e5"></i>
<i style="left:1.66px;width:3.62px;background:#9eaedb"></i>
<i style="left:4.98px;width:20.55px;background:#6c88ca"></i>
<i style="left:25.23px;width:99.55px;background:#3f6bb9"></i>
<i style="left:124.48px;width:153.66px;background:#3a5fa6"></i>
<i style="left:277.84px;width:54.08px;background:#2f4f8e"></i>
</div>
<div class="lbs" style="left:610.65px;top:474.58px;width:333.45px">
<span class="lb" style="left:15.70px;top:8.30px">6.1</span>
<span class="lb" style="left:75.45px;top:8.30px">29.9</span>
<span class="lb" style="left:201.76px;top:14.30px">46.2</span>
<span class="lb" style="left:305.33px;top:8.30px">16.2</span>
</div>
<div class="bar" style="left:611.25px;top:506.40px;width:332.35px">
<i style="left:0.00px;width:3.62px;background:#9eaedb"></i>
<i style="left:3.32px;width:36.81px;background:#6c88ca"></i>
<i style="left:39.83px;width:103.20px;background:#3f6bb9"></i>
<i style="left:142.74px;width:146.36px;background:#3a5fa6"></i>
<i style="left:288.80px;width:43.45px;background:#2f4f8e"></i>
</div>
<div class="lbs" style="left:610.65px;top:501.00px;width:333.45px">
<span class="lb" style="left:22.18px;top:8.30px">11.0</span>
<span class="lb" style="left:91.89px;top:8.30px">31.0</span>
<span class="lb" style="left:216.37px;top:1.90px">44.0</span>
<span class="lb" style="left:310.97px;top:8.30px">13.0</span>
</div>
<div class="bar" style="left:611.25px;top:532.82px;width:332.35px">
<i style="left:0.00px;width:16.23px;background:#6c88ca"></i>
<i style="left:15.93px;width:64.03px;background:#3f6bb9"></i>
<i style="left:79.67px;width:152.67px;background:#3a5fa6"></i>
<i style="left:232.03px;width:100.22px;background:#2f4f8e"></i>
</div>
<div class="lbs" style="left:610.65px;top:527.42px;width:333.45px">
<span class="lb" style="left:8.57px;top:8.30px">4.8</span>
<span class="lb" style="left:48.40px;top:8.30px">19.2</span>
<span class="lb" style="left:156.45px;top:8.30px">45.9</span>
<span class="lb" style="left:282.59px;top:8.30px">30.1</span>
</div>
<div class="bar" style="left:611.25px;top:559.24px;width:332.35px">
<i style="left:0.00px;width:1.63px;background:#b6c3e5"></i>
<i style="left:1.33px;width:3.29px;background:#9eaedb"></i>
<i style="left:4.32px;width:10.59px;background:#6c88ca"></i>
<i style="left:14.61px;width:63.37px;background:#3f6bb9"></i>
<i style="left:77.68px;width:145.69px;background:#3a5fa6"></i>
<i style="left:223.07px;width:108.85px;background:#2f4f8e"></i>
</div>
<div class="lbs" style="left:610.65px;top:553.84px;width:333.45px">
<span class="lb" style="left:10.06px;top:8.30px">3.1</span>
<span class="lb" style="left:46.74px;top:8.30px">19.0</span>
<span class="lb" style="left:150.97px;top:8.30px">43.8</span>
<span class="lb" style="left:277.94px;top:8.30px">32.7</span>
</div>
<div class="bar" style="left:611.25px;top:585.66px;width:332.35px">
<i style="left:0.00px;width:2.62px;background:#9eaedb"></i>
<i style="left:2.32px;width:13.58px;background:#6c88ca"></i>
<i style="left:15.60px;width:91.59px;background:#3f6bb9"></i>
<i style="left:106.89px;width:156.32px;background:#3a5fa6"></i>
<i style="left:262.90px;width:69.68px;background:#2f4f8e"></i>
</div>
<div class="lbs" style="left:610.65px;top:580.26px;width:333.45px">
<span class="lb" style="left:9.56px;top:8.30px">4.0</span>
<span class="lb" style="left:61.84px;top:8.30px">27.5</span>
<span class="lb" style="left:185.50px;top:8.30px">47.0</span>
<span class="lb" style="left:298.19px;top:8.30px">20.9</span>
</div>
<div class="bar" style="left:611.25px;top:612.08px;width:332.35px">
<i style="left:0.00px;width:1.30px;background:#b6c3e5"></i>
<i style="left:1.00px;width:2.29px;background:#9eaedb"></i>
<i style="left:2.99px;width:16.57px;background:#6c88ca"></i>
<i style="left:19.25px;width:110.51px;background:#3f6bb9"></i>
<i style="left:129.46px;width:158.64px;background:#3a5fa6"></i>
<i style="left:287.80px;width:44.12px;background:#2f4f8e"></i>
</div>
<div class="lbs" style="left:610.65px;top:606.68px;width:333.45px">
<span class="lb" style="left:11.72px;top:8.30px">4.9</span>
<span class="lb" style="left:74.96px;top:8.30px">33.2</span>
<span class="lb" style="left:209.23px;top:8.30px">47.7</span>
<span class="lb" style="left:310.31px;top:8.30px">13.2</span>
</div>
<div class="bar" style="left:611.25px;top:638.50px;width:332.35px">
<i style="left:0.00px;width:1.96px;background:#9eaedb"></i>
<i style="left:1.66px;width:21.21px;background:#6c88ca"></i>
<i style="left:22.57px;width:102.87px;background:#3f6bb9"></i>
<i style="left:125.15px;width:186.19px;background:#3a5fa6"></i>
<i style="left:311.04px;width:21.21px;background:#2f4f8e"></i>
</div>
<div class="lbs" style="left:610.65px;top:633.10px;width:333.45px">
<span class="lb" style="left:12.72px;top:8.30px">6.3</span>
<span class="lb" style="left:74.46px;top:8.30px">30.9</span>
<span class="lb" style="left:218.69px;top:8.30px">56.0</span>
<span class="lb" style="left:322.09px;top:8.30px">6.3</span>
</div>
<div class="ln" style="left:604px;top:368.2px;width:404px;height:1px"></div>
<div class="ln" style="left:604px;top:394px;width:404px;height:2px"></div>
<div class="ln" style="left:603.75px;top:368.7px;width:1px;height:290.09999999999997px"></div>
<div class="ln" style="left:947px;top:310px;width:1px;height:348.79999999999995px"></div>
<div class="ln" style="left:1007px;top:310px;width:1px;height:348.79999999999995px"></div>
<div class="ln" style="left:947px;top:309.7px;width:61px;height:1px"></div>
<div class="dot" style="left:604px;top:447.0px;width:404px"></div>
<div class="dot" style="left:1051px;top:447.0px;width:74px"></div>
<div class="dot" style="left:604px;top:500.0px;width:404px"></div>
<div class="dot" style="left:1051px;top:500.0px;width:74px"></div>
<div class="dot" style="left:604px;top:579.0px;width:404px"></div>
<div class="dot" style="left:1051px;top:579.0px;width:74px"></div>
<div class="dot" style="left:604px;top:632.0px;width:404px"></div>
<div class="dot" style="left:1051px;top:632.0px;width:74px"></div>
<div class="ln" style="left:1050px;top:310px;width:1px;height:348.79999999999995px"></div>
<div class="ln" style="left:1050px;top:309.7px;width:75px;height:1px"></div>
<div class="ln" style="left:1050px;top:368.2px;width:75px;height:1px"></div>
<div class="ln" style="left:1050px;top:394px;width:75px;height:2px"></div>
<div class="v" style="left:976.75px;top:376.00px;color:#9c0006">7.20</div>
<div class="v" style="left:1087.5px;top:376.00px;color:#006100">-1.20</div>
<div class="v" style="left:976.75px;top:402.35px;color:#9c0006">7.25</div>
<div class="v" style="left:1087.5px;top:402.35px;color:#ff0000">-0.96</div>
<div class="v" style="left:976.75px;top:428.70px;color:#9c0006">7.37</div>
<div class="v" style="left:1087.5px;top:428.70px;color:#006100">-1.23</div>
<div class="v" style="left:976.75px;top:455.05px;color:#9c0006">7.18</div>
<div class="v" style="left:1087.5px;top:455.05px;color:#ff0000">-1.15</div>
<div class="v" style="left:976.75px;top:481.40px;color:#9c0006">7.11</div>
<div class="v" style="left:1087.5px;top:481.40px;color:#006100">-1.36</div>
<div class="v" style="left:976.75px;top:507.75px;color:#9c0006">7.01</div>
<div class="v" style="left:1087.5px;top:507.75px;color:#ff0000">-1.05</div>
<div class="v" style="left:976.75px;top:534.10px;color:#9c0006">7.36</div>
<div class="v" style="left:1087.5px;top:534.10px;color:#ff0000">-1.12</div>
<div class="v" style="left:976.75px;top:560.45px;color:#9c0006">7.36</div>
<div class="v" style="left:1087.5px;top:560.45px;color:#ff0000">-1.12</div>
<div class="v" style="left:976.75px;top:586.80px;color:#9c0006">7.23</div>
<div class="v" style="left:1087.5px;top:586.80px;color:#006100">-1.20</div>
<div class="v" style="left:976.75px;top:613.15px;color:#9c0006">7.10</div>
<div class="v" style="left:1087.5px;top:613.15px;color:#006100">-1.39</div>
<div class="v" style="left:976.75px;top:639.50px;color:#9c0006">7.08</div>
<div class="v" style="left:1087.5px;top:639.50px;color:#ff0000">-1.15</div>
<div class="cell" style="left:948px;width:59px;top:325px;font-size:9.5px;letter-spacing:1px;text-indent:0;color:#222">加重<span style="color:#777">平均</span></div>
<div class="cell" style="left:948px;width:59px;top:342.5px;font-size:9.5px;letter-spacing:1px;text-indent:0;color:#444">（時間）</div>
<div class="cell" style="left:1051px;width:74px;top:316.8px;font-size:9.5px;letter-spacing:1px;text-indent:0;color:#222">現実vs理<span style="color:#777">想</span></div>
<div class="cell" style="left:1051px;width:74px;top:333.3px;font-size:9.5px;letter-spacing:1px;text-indent:0;color:#222">加重<span style="color:#777">平均</span>GAP</div>
<div class="cell" style="left:1051px;width:74px;top:350.5px;font-size:9.5px;letter-spacing:1px;text-indent:0;color:#444">（時間）</div>
<div class="mk" style="left:652.15px;top:301.8px;width:4.6px;height:4.2px;background:#b6c3e5"></div>
<div class="lg" style="left:659.35px;top:297.1px">4時間未満</div>
<div class="mk" style="left:795.4px;top:301.8px;width:4.6px;height:4.2px;background:#9eaedb"></div>
<div class="lg" style="left:802.6px;top:297.1px">4時間以上5時間未満</div>
<div class="mk" style="left:652.15px;top:313.5px;width:4.6px;height:4.2px;background:#6c88ca"></div>
<div class="lg" style="left:659.35px;top:308.8px">5時間以上6時間未満</div>
<div class="mk" style="left:795.4px;top:313.5px;width:4.6px;height:4.2px;background:#3f6bb9"></div>
<div class="lg" style="left:802.6px;top:308.8px">6時間以上7時間未満</div>
<div class="mk" style="left:652.15px;top:324.8px;width:4.6px;height:4.2px;background:#3a5fa6"></div>
<div class="lg" style="left:659.35px;top:320.1px">7時間以上8時間未満</div>
<div class="mk" style="left:795.4px;top:324.8px;width:4.6px;height:4.2px;background:#2f4f8e"></div>
<div class="lg" style="left:802.6px;top:320.1px">8時間以上</div>
<div class="nt" style="left:931.3px;top:664.3px;font-size:7.6px"><span class="j">※</span><u>6</u>時間以上に色付け</div>
<div class="nt" style="left:1073.3px;top:664.3px;font-size:7.6px"><span class="j">※</span><u>-1.2</u>時間以上に色付け</div>
<div class="a" style="left:20px;top:693.8px;font-size:10.4px;line-height:14px;color:#7f7f7f;letter-spacing:.4px">Copyright © CCC MK HOLDINGS Co.,Ltd. All Rights Reserved.</div>
<div class="a" style="left:1248px;top:698.6px;font-size:12.8px;line-height:14px;color:#595959;letter-spacing:.4px">10</div>
</body></html>
